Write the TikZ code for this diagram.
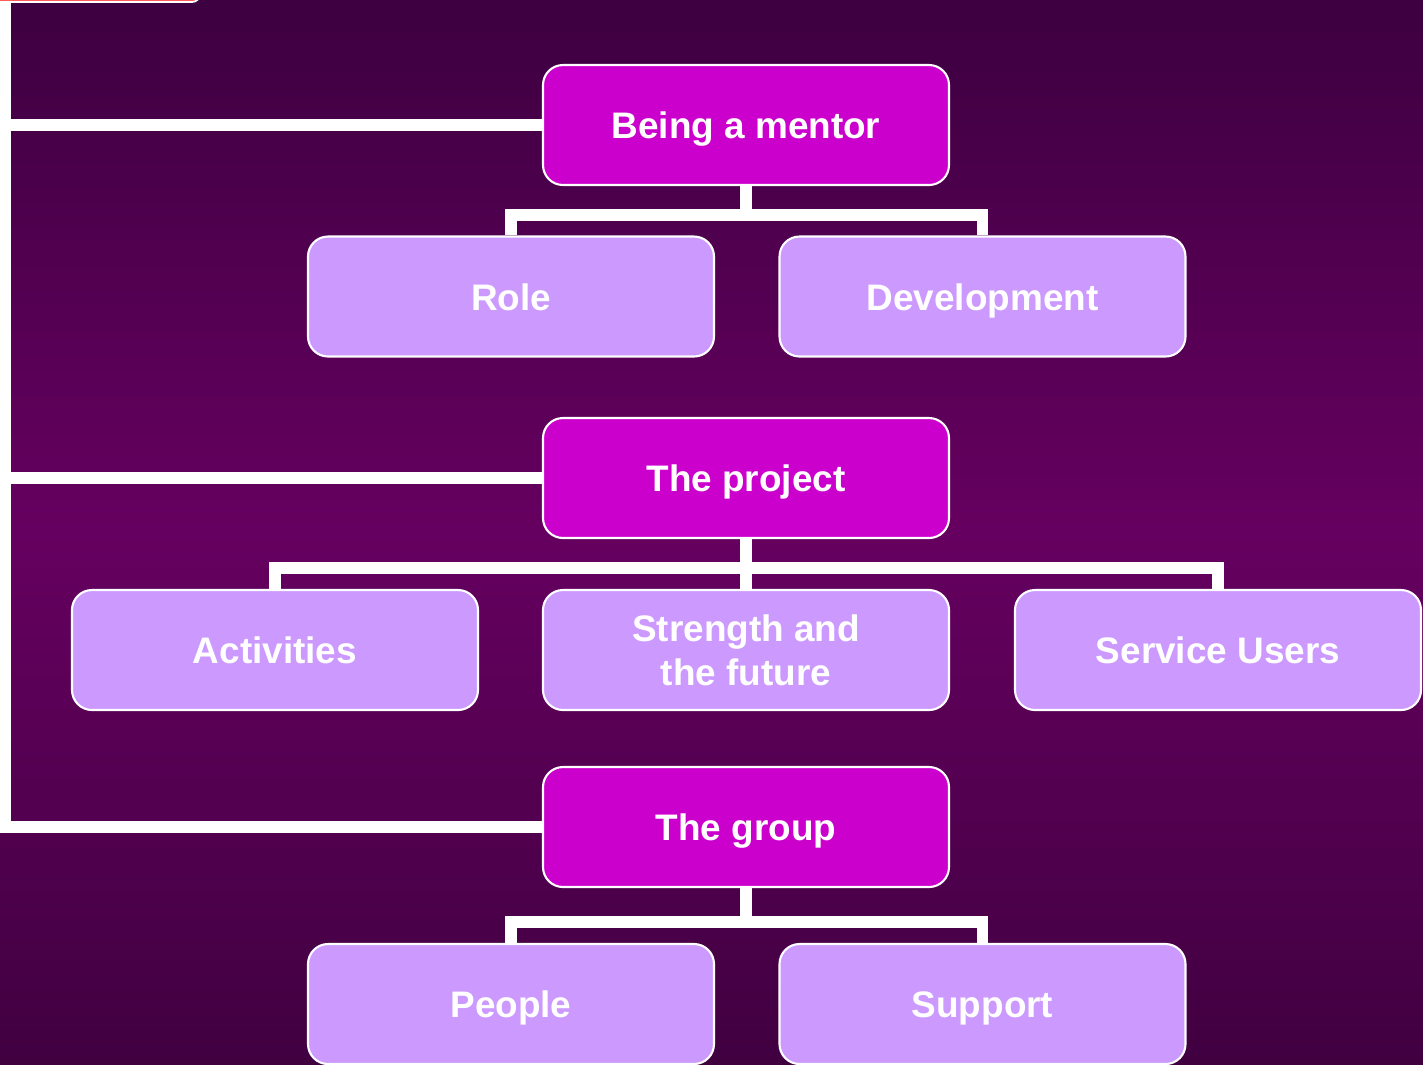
\documentclass[tikz,border=0pt]{standalone}
\usepackage{fontspec}
\setmainfont{Liberation Sans}
\usepackage{tikz}
\usetikzlibrary{positioning}
\definecolor{bgtop}{RGB}{61,0,64}
\definecolor{bgmid}{RGB}{102,0,96}
\definecolor{bgbot}{RGB}{64,0,64}
\definecolor{headfill}{RGB}{204,0,204}
\definecolor{subfill}{RGB}{204,153,255}
\definecolor{tabred}{RGB}{255,90,90}

\begin{document}
\begin{tikzpicture}[node distance=2cm,on grid,
  every node/.style={font=\bfseries\fontsize{10.5}{12.5}\selectfont,text=white},
  box/.style={rectangle,rounded corners=0.2cm,draw=white,line width=0.6pt,
    minimum width=4.06cm,minimum height=1.2cm,align=center},
  oneline/.style={text height=0.27cm,text depth=0pt},
  head/.style={box,oneline,fill=headfill},
  sub/.style={box,fill=subfill},
  leaf/.style={sub,oneline},
  link/.style={draw=white,line width=3.4pt}]
  \useasboundingbox (0,0) rectangle (14.23,-10.64);
  \fill[top color=bgtop,bottom color=bgbot,middle color=bgmid] (0,0) rectangle (14.23,-10.64);

  \node[head] (mentor) at (7.46,-1.25) {Being a mentor};
  \node[leaf] (role) [below left = 1.715cm and 2.35cm of mentor] {Role};
  \node[leaf] (devel) [below right = 1.715cm and 2.365cm of mentor] {Development};
  \node[head] (project) [below = 3.53cm of mentor] {The project};
  \node[leaf] (activ) [below left = 1.72cm and 4.71cm of project] {Activities};
  \node[sub] (future) [below = 1.72cm of project] {Strength and\\ the future};
  \node[leaf] (users) [below right = 1.72cm and 4.72cm of project] {Service Users};
  \node[head] (group) [below = 3.49cm of project] {The group};
  \node[leaf] (people) [below left = 1.77cm and 2.35cm of group] {People};
  \node[leaf] (support) [below right = 1.77cm and 2.365cm of group] {Support};

  % tree links
  \draw[link] (mentor.south) -- ++(0,-0.29) coordinate (mbar) -| (role.north)
    (mbar) -| (devel.north);
  \draw[link] (project.south) -- ++(0,-0.29) coordinate (pbar) -| (activ.north)
    (pbar) -| (users.north) (pbar) -- (future.north);
  \draw[link] (group.south) -- ++(0,-0.34) coordinate (gbar) -| (people.north)
    (gbar) -| (support.north);

  % left trunk
  \coordinate (trunk) at (0.055,0.1);
  \draw[link] (trunk) |- (group.west);
  \draw[link] (trunk |- mentor.west) -- (mentor.west);
  \draw[link] (trunk |- project.west) -- (project.west);

  \draw[draw=white,line width=0.5pt,fill=tabred,rounded corners=0.08cm]
    (-0.3,0.4) rectangle (2.0,-0.02);
\end{tikzpicture}
\end{document}
